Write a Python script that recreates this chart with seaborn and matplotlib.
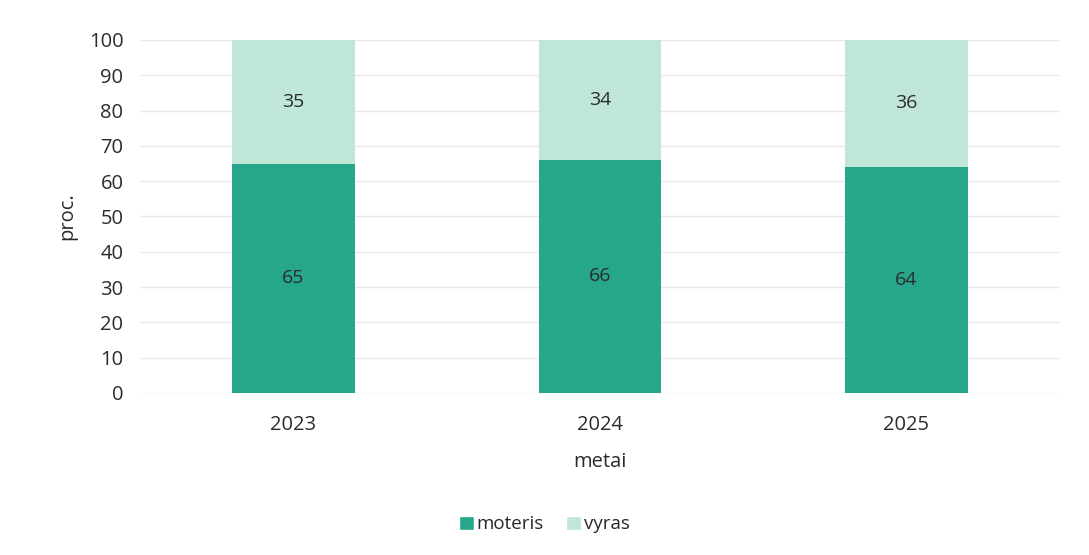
import pandas as pd
import matplotlib.pyplot as plt
import seaborn as sns
from matplotlib.patches import Patch

years = ["2023", "2024", "2025"]
moteris = [65, 66, 64]
vyras = [35, 34, 36]

dark = "#26a68a"
light = "#bfe6d7"
text_col = "#2b2b2b"

df = pd.DataFrame({"metai": years, "moteris": moteris, "vyras": vyras})
df["total"] = df["moteris"] + df["vyras"]

sns.set_theme(style="white")
plt.rcParams["font.family"] = ["Open Sans", "DejaVu Sans"]

fig = plt.figure(figsize=(10.89, 5.55), dpi=100)
ax = fig.add_axes([0.1286, 0.292, 0.8444, 0.636])

# stacked: full bar in light colour, women part drawn over it
sns.barplot(data=df, x="metai", y="total", color=light, width=0.4,
            saturation=1, linewidth=0, ax=ax, zorder=2)
sns.barplot(data=df, x="metai", y="moteris", color=dark, width=0.4,
            saturation=1, linewidth=0, ax=ax, zorder=3)

light_bars = ax.containers[0]
dark_bars = ax.containers[1]
ax.bar_label(dark_bars, labels=[str(v) for v in moteris], label_type="center",
             fontsize=14, color=text_col)
for rect, v in zip(light_bars, vyras):
    ax.text(rect.get_x() + rect.get_width() / 2, rect.get_height() - v / 2,
            str(v), ha="center", va="center", fontsize=14, color=text_col,
            zorder=4)

ax.set_ylim(0, 100)
ax.set_yticks(range(0, 101, 10))
ax.yaxis.grid(True, color="#e8e8e8", linewidth=1, zorder=0)
ax.set_axisbelow(True)
for s in ax.spines.values():
    s.set_visible(False)
ax.tick_params(axis="both", labelsize=14.5, colors=text_col, length=0)
ax.tick_params(axis="x", pad=16)
ax.tick_params(axis="y", pad=12)
ax.set_xlabel("metai", fontsize=14.5, color=text_col, labelpad=12)
ax.set_ylabel("proc.", fontsize=14.5, color=text_col, labelpad=8)

handles = [Patch(facecolor=dark, label="moteris"), Patch(facecolor=light, label="vyras")]
fig.legend(handles=handles, loc="center", bbox_to_anchor=(0.5, 0.055), ncol=2,
           frameon=False, fontsize=13.5, handlelength=0.8, handleheight=0.8,
           handletextpad=0.15, columnspacing=1.2)

plt.savefig("out.png", dpi=100)
